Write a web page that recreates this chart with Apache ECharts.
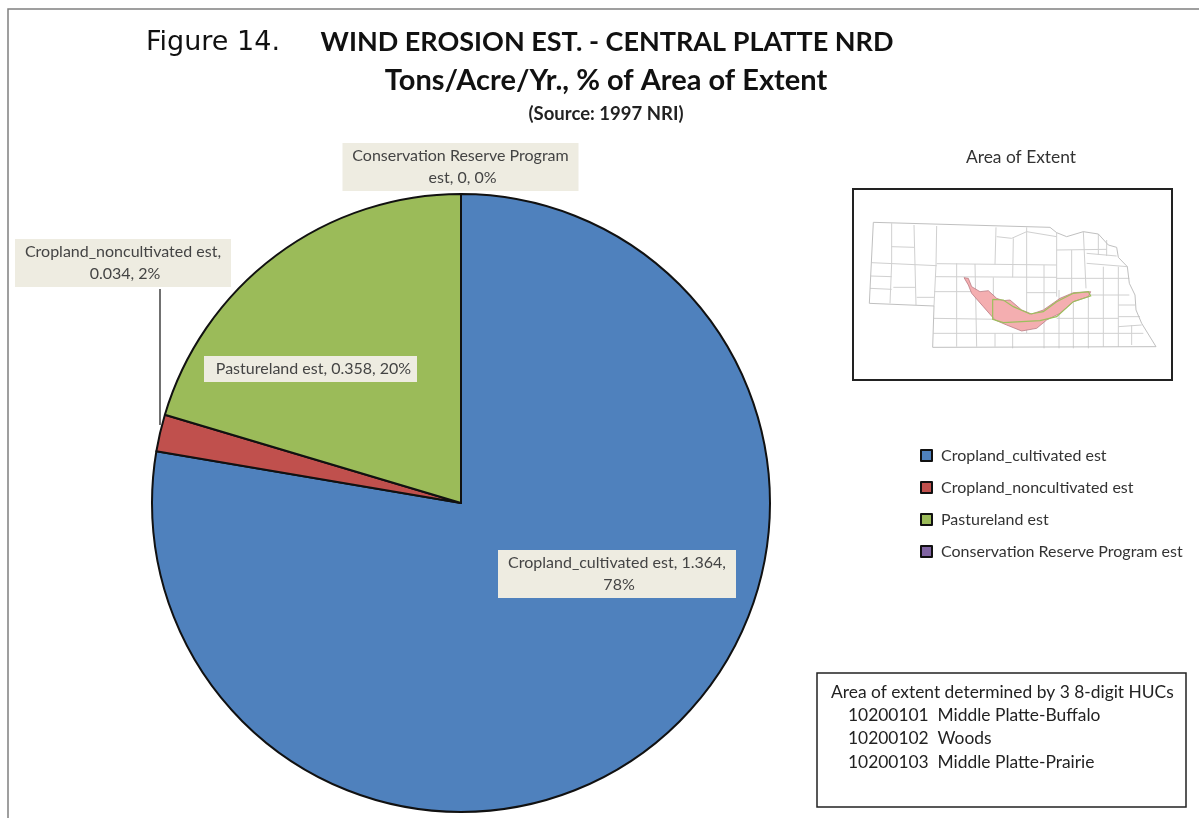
<!DOCTYPE html>
<html>
<head>
<meta charset="utf-8">
<title>Wind erosion estimate, Central Platte NRD</title>
<style>html,body{margin:0;padding:0;background:#fff}#chart{width:1199px;height:818px}</style>
<script src="https://cdn.jsdelivr.net/npm/echarts@6/dist/echarts.min.js"></script>
</head>
<body>
<div id="chart"></div>
<script>
// Land-use categories and erosion estimates (tons/acre/yr)
const categories = ['Cropland_cultivated est', 'Cropland_noncultivated est', 'Pastureland est', 'Conservation Reserve Program est'];
const erosionValues = [1.364, 0.034, 0.358, 0];
const sliceColors = ['#4f81bd', '#c0504d', '#9bbb59', '#8064a2'];

// Callout placement: centre of each label box, wrapping width and box padding
const labelCentres = [[617, 574], [123, 263], [310.5, 369], [460.5, 167]];
const labelWidths = [222, 200, 197, 220];
const labelPaddings = [[2, 8, 2, 8], [2, 8, 2, 8], [2, 5, 2, 11], [2, 8, 2, 8]];

// Side-panel text
const hucHeading = 'Area of extent determined by 3 8-digit HUCs';
const hucCodes = ['10200101', '10200102', '10200103'];
const hucNames = ['Middle Platte-Buffalo', 'Woods', 'Middle Platte-Prairie'];

// Locator map outlines, in the map's own drawing units
const stateOutline = [[100,157],[630,172],[650,188],[680,200],[730,185],[775,192],[805,225],[830,232],[835,262],[862,290],[868,340],[885,375],[888,420],[905,460],[948,530],[278,532],[282,408],[88,400],[100,157]];
const countyLines = [
  [[155,160],[155,280],[150,400]], [[222,165],[228,405]], [[290,168],[288,285],[282,408]],
  [[95,278],[290,287]], [[92,318],[155,320]], [[90,355],[155,358]], [[155,230],[222,232]],
  [[160,352],[228,352]], [[230,382],[282,382]], [[290,281],[650,285]], [[468,172],[465,283]],
  [[520,205],[518,322]], [[560,172],[560,490]], [[470,200],[515,205],[560,185],[650,200]],
  [[285,320],[650,322]], [[650,240],[800,238]], [[650,188],[650,380]], [[695,240],[695,370]],
  [[730,185],[738,355]], [[775,192],[775,255]], [[800,210],[800,258]], [[740,250],[830,258]],
  [[740,280],[862,290]], [[650,325],[868,325]], [[790,290],[790,530]], [[282,365],[395,365]],
  [[282,445],[480,448]], [[280,490],[910,490]], [[350,280],[350,530]], [[405,282],[410,530]],
  [[465,490],[465,530]], [[518,490],[518,535]], [[612,285],[612,535]], [[657,360],[657,535]],
  [[700,380],[700,535]], [[745,380],[745,535]], [[835,290],[835,530]], [[875,465],[875,525]],
  [[835,440],[900,440]], [[835,405],[885,405]], [[835,470],[905,465]], [[560,368],[650,368]],
  [[460,322],[460,385]], [[700,375],[868,375]], [[650,445],[835,445]]
];
const basinArea = [[372,323],[385,325],[395,350],[420,365],[445,362],[470,385],[490,392],[510,390],[545,420],[575,432],[610,420],[660,385],[700,368],[752,365],[745,380],[700,395],[660,430],[620,450],[590,475],[545,483],[500,465],[465,450],[430,410],[395,370],[385,345]];
const basinBoundary = [[458,388],[458,448],[490,458],[600,452],[650,440],[700,395],[752,378],[745,365],[700,370],[650,395],[610,425],[570,432],[520,410],[490,390],[458,388]];

const bodyFont = 'Lato, "Open Sans", sans-serif';
const toMap = pts => pts.map(p => [840 + p[0] / 3, 170 + p[1] / 3]);

const mapGraphics = [
  { type: 'rect', shape: { x: 853, y: 189, width: 319, height: 191 }, style: { fill: '#fff', stroke: '#222', lineWidth: 2 } },
  ...countyLines.map(l => ({ type: 'polyline', shape: { points: toMap(l) }, style: { fill: null, stroke: '#d0d0d0', lineWidth: 1 } })),
  { type: 'polyline', shape: { points: toMap(stateOutline) }, style: { fill: null, stroke: '#c0c0c0', lineWidth: 1 } },
  { type: 'polygon', shape: { points: toMap(basinArea) }, style: { fill: '#f4aeb0', stroke: '#b07078', lineWidth: 0.7 } },
  { type: 'polyline', shape: { points: toMap(basinBoundary) }, style: { fill: null, stroke: '#9cc05c', lineWidth: 1.2 } }
];

const panelFont = '17.4px ' + bodyFont;
const hucLines = hucCodes.map((code, i) => ({
  type: 'text',
  style: { x: 848, y: 715 + i * 23.5, text: code + '  ' + hucNames[i], font: panelFont, fill: '#222', textVerticalAlign: 'middle' }
}));

const chart = echarts.init(document.getElementById('chart'));
chart.setOption({
  animation: false,
  backgroundColor: '#fff',
  title: [
    { text: 'WIND EROSION EST. - CENTRAL PLATTE NRD', left: 607, top: 42, padding: 0, textAlign: 'center', textVerticalAlign: 'middle', textStyle: { fontFamily: bodyFont, fontWeight: 'bold', fontSize: 27, color: '#111' } },
    { text: 'Tons/Acre/Yr., % of Area of Extent', left: 606, top: 81, padding: 0, textAlign: 'center', textVerticalAlign: 'middle', textStyle: { fontFamily: bodyFont, fontWeight: 'bold', fontSize: 29, color: '#111' } },
    { text: '(Source: 1997 NRI)', left: 606, top: 114, padding: 0, textAlign: 'center', textVerticalAlign: 'middle', textStyle: { fontFamily: bodyFont, fontWeight: 'bold', fontSize: 18.5, color: '#222' } },
    { text: 'Figure 14.', left: 146, top: 43, padding: 0, textVerticalAlign: 'middle', textStyle: { fontFamily: '"DejaVu Sans"', fontWeight: 'normal', fontSize: 27, color: '#111' } },
    { text: 'Area of Extent', left: 1021, top: 157, padding: 0, textAlign: 'center', textVerticalAlign: 'middle', textStyle: { fontFamily: bodyFont, fontWeight: 'normal', fontSize: 17.4, color: '#333' } }
  ],
  legend: {
    orient: 'vertical', left: 915, top: 442, itemWidth: 11, itemHeight: 11, itemGap: 15, icon: 'rect',
    data: categories,
    textStyle: { fontFamily: bodyFont, fontSize: 16, color: '#333', lineHeight: 17, padding: [0, 0, 0, 4] }
  },
  series: [{
    type: 'pie',
    center: [461, 503],
    radius: 309,
    startAngle: 90,
    percentPrecision: 0,
    silent: true,
    itemStyle: { borderColor: '#111', borderWidth: 2 },
    label: {
      show: true, position: 'inside', overflow: 'break',
      formatter: '{b}, {c}, {d}%',
      fontFamily: bodyFont, fontSize: 16, lineHeight: 22, color: '#444', align: 'center',
      backgroundColor: '#eeece1'
    },
    labelLine: { show: false },
    labelLayout: p => ({ x: labelCentres[p.dataIndex][0], y: labelCentres[p.dataIndex][1], align: 'center', verticalAlign: 'middle' }),
    data: categories.map((name, i) => ({
      name, value: erosionValues[i],
      itemStyle: { color: sliceColors[i] },
      label: { width: labelWidths[i], padding: labelPaddings[i] }
    }))
  }],
  graphic: [
    { type: 'polyline', shape: { points: [[8, 818], [8, 9], [1199, 9]] }, style: { fill: null, stroke: '#808080', lineWidth: 1.5 } },
    { type: 'line', shape: { x1: 160, y1: 289, x2: 160, y2: 425 }, style: { stroke: '#111', lineWidth: 1.2 }, z: 5 },
    ...mapGraphics,
    { type: 'rect', shape: { x: 817, y: 673, width: 369, height: 134 }, style: { fill: '#fff', stroke: '#222', lineWidth: 1.5 } },
    { type: 'text', style: { x: 831, y: 692, text: hucHeading, font: panelFont, fill: '#222', textVerticalAlign: 'middle' } },
    ...hucLines
  ]
});
</script>
</body>
</html>
